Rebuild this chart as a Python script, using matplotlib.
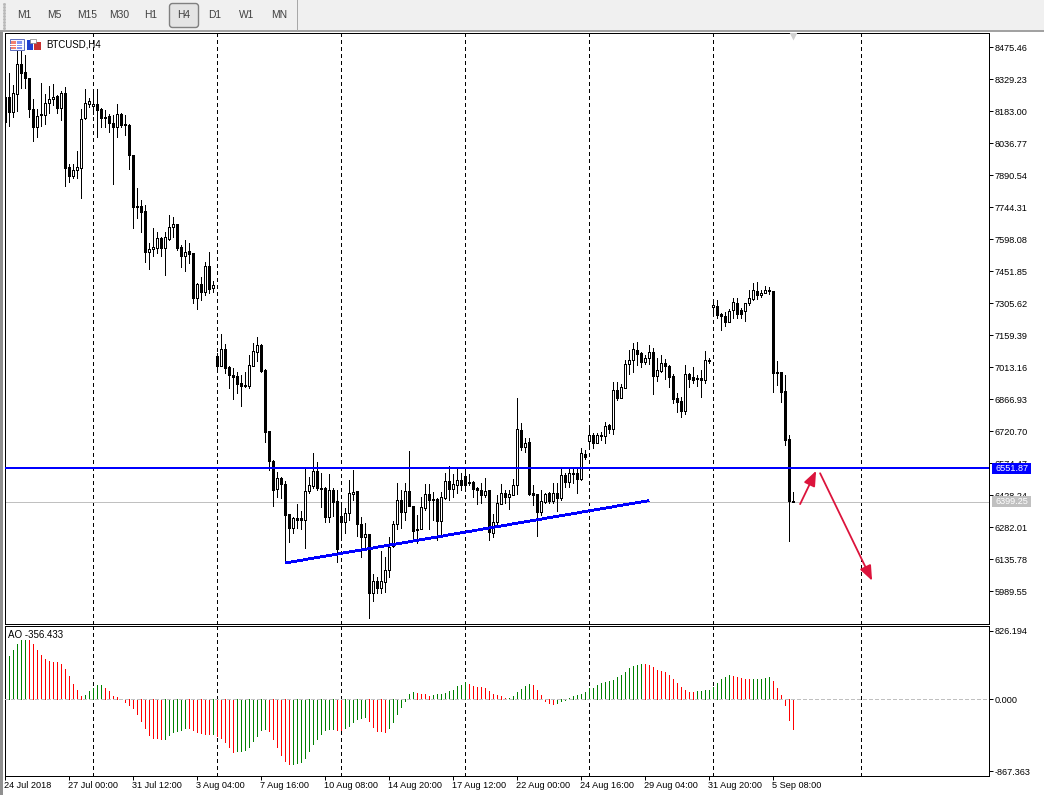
import numpy as np
import matplotlib
matplotlib.use('Agg')
import matplotlib.pyplot as plt
from matplotlib.patches import Rectangle, FancyBboxPatch
from matplotlib.transforms import ScaledTranslation

plt.rcParams['font.family'] = ['Liberation Sans', 'DejaVu Sans']

# BTCUSD H4 candles
opens = [8250, 8247, 8181, 8260, 8398, 8361, 8334, 8192, 8113, 8169,
         8168, 8219, 8238, 8253, 8200, 8265, 7927, 7889, 7913, 7922,
         8154, 8216, 8206, 8216, 8194, 8157, 8163, 8128, 8110, 8169,
         8125, 8119, 7982, 7749, 7750, 7727, 7542, 7552, 7560, 7604,
         7560, 7601, 7653, 7668, 7563, 7523, 7543, 7534, 7328, 7394,
         7359, 7476, 7377,
         7065, 7021, 7095, 7015, 6978, 6975, 6941, 6931, 6929, 7021,
         7085, 7114, 7001, 6720, 6585, 6455, 6506, 6480, 6341, 6279,
         6323, 6323, 6317, 6446, 6472, 6538, 6462, 6462, 6331, 6452,
         6401, 6332, 6308, 6346, 6436, 6446, 6296, 6239, 6250, 5983,
         6035, 6006, 6034, 6085, 6197, 6296, 6405, 6353, 6446, 6379,
         6274, 6276, 6370, 6433, 6410, 6411, 6312, 6416, 6492, 6457,
         6475, 6497, 6516, 6488, 6488, 6462, 6451, 6431, 6451, 6257,
         6305, 6388, 6437, 6422, 6431, 6474, 6725, 6650, 6670, 6437,
         6433, 6354, 6399, 6437, 6402, 6437, 6417, 6519, 6489, 6530,
         6529, 6504, 6617, 6678, 6702, 6666, 6704, 6701, 6748, 6733,
         6908, 6874, 6920, 7027, 7045, 7091, 7077, 7037, 7054, 7083,
         6975, 6996, 7031, 7019, 6975, 6871, 6859, 6815, 6981, 6967,
         6963, 6963, 6957, 7045,
         7287, 7293, 7255, 7248, 7222, 7275, 7305, 7275, 7272, 7305,
         7325, 7360, 7344, 7354, 7366, 7362, 6990, 6990, 6903, 6684,
         6404]
highs = [8250, 8357, 8303, 8463, 8478, 8440, 8334, 8238, 8192, 8311,
         8261, 8299, 8308, 8258, 8277, 8293, 7942, 7942, 8002, 8192,
         8285, 8245, 8285, 8285, 8197, 8189, 8171, 8166, 8216, 8177,
         8166, 8125, 7982, 7831, 7778, 7755, 7583, 7648, 7633, 7607,
         7633, 7709, 7702, 7668, 7572, 7595, 7580, 7534, 7397, 7427,
         7496, 7538, 7409,
         7077, 7165, 7120, 7018, 7008, 6993, 6978, 6993, 7068, 7123,
         7150, 7118, 7004, 6720, 6590, 6533, 6513, 6494, 6341, 6331,
         6387, 6358, 6551, 6513, 6620, 6579, 6529, 6468, 6526, 6460,
         6452, 6399, 6369, 6498, 6544, 6446, 6331, 6300, 6250, 6069,
         6056, 6174, 6148, 6236, 6311, 6483, 6452, 6483, 6631, 6379,
         6338, 6419, 6480, 6480, 6445, 6414, 6445, 6529, 6562, 6526,
         6551, 6529, 6559, 6526, 6494, 6468, 6483, 6506, 6452, 6341,
         6430, 6480, 6452, 6452, 6503, 6871, 6757, 6689, 6689, 6475,
         6433, 6452, 6440, 6445, 6483, 6483, 6559, 6529, 6551, 6548,
         6559, 6643, 6635, 6742, 6711, 6711, 6719, 6763, 6754, 6944,
         6944, 6935, 7046, 7092, 7126, 7127, 7085, 7069, 7115, 7100,
         7054, 7069, 7050, 7024, 6983, 6897, 6879, 7024, 6989, 7013,
         6978, 7001, 7088, 7057,
         7305, 7321, 7260, 7267, 7278, 7328, 7328, 7283, 7308, 7366,
         7397, 7403, 7366, 7385, 7382, 7363, 7042, 6993, 6978, 6704,
         6445]
lows = [8006, 8116, 8158, 8184, 8291, 8291, 8155, 8049, 8067, 8116,
        8123, 8174, 8212, 8177, 8143, 7843, 7861, 7877, 7877, 7788,
        8148, 8204, 8169, 8067, 8113, 8110, 8090, 7852, 8064, 8113,
        8076, 7921, 7650, 7697, 7633, 7496, 7461, 7522, 7534, 7522,
        7435, 7595, 7610, 7549, 7470, 7455, 7488, 7305, 7280, 7321,
        7344, 7351, 7359,
        7001, 7020, 6986, 6920, 6868, 6894, 6838, 6925, 6920, 7020,
        7042, 6993, 6673, 6544, 6381, 6422, 6414, 6122, 6216, 6254,
        6277, 6273, 6189, 6437, 6460, 6452, 6376, 6305, 6308, 6335,
        6125, 6239, 6254, 6315, 6407, 6244, 6148, 6194, 5869, 5947,
        5983, 5983, 5988, 6056, 6190, 6274, 6280, 6315, 6381, 6232,
        6209, 6274, 6361, 6274, 6315, 6224, 6239, 6411, 6407, 6422,
        6437, 6452, 6468, 6475, 6422, 6387, 6391, 6422, 6224, 6239,
        6292, 6388, 6392, 6366, 6430, 6434, 6635, 6628, 6430, 6384,
        6244, 6338, 6392, 6392, 6392, 6358, 6407, 6468, 6468, 6483,
        6440, 6498, 6596, 6658, 6646, 6666, 6681, 6669, 6711, 6707,
        6864, 6871, 6917, 6981, 6993, 7024, 7016, 7028, 7027, 6891,
        6952, 6990, 6958, 6925, 6848, 6810, 6788, 6800, 6925, 6940,
        6929, 6879, 6943, 7034,
        7263, 7237, 7184, 7203, 7219, 7240, 7237, 7237, 7226, 7298,
        7321, 7324, 7333, 7351, 7348, 6900, 6932, 6856, 6658, 6221,
        6399]
closes = [8136, 8181, 8265, 8398, 8360, 8334, 8192, 8113, 8163, 8165,
          8219, 8238, 8250, 8200, 8265, 7925, 7889, 7913, 7927, 8146,
          8219, 8232, 8215, 8190, 8151, 8151, 8128, 8110, 8169, 8120,
          8119, 7982, 7747, 7747, 7724, 7542, 7552, 7561, 7602, 7560,
          7607, 7653, 7666, 7557, 7523, 7539, 7532, 7328, 7394, 7359,
          7476, 7372, 7388,
          7021, 7095, 7012, 6978, 6969, 6937, 6929, 6929, 7022, 7086,
          7114, 6996, 6719, 6586, 6452, 6506, 6481, 6340, 6279, 6323,
          6317, 6317, 6446, 6474, 6538, 6463, 6457, 6331, 6452, 6399,
          6184, 6308, 6347, 6437, 6445, 6296, 6239, 6250, 5983, 6035,
          6006, 6035, 6085, 6194, 6296, 6405, 6353, 6446, 6381, 6267,
          6271, 6373, 6433, 6407, 6408, 6312, 6419, 6492, 6457, 6478,
          6497, 6477, 6475, 6484, 6457, 6452, 6430, 6446, 6262, 6305,
          6391, 6437, 6422, 6433, 6474, 6730, 6650, 6666, 6434, 6431,
          6354, 6401, 6434, 6402, 6437, 6417, 6519, 6489, 6529, 6527,
          6501, 6620, 6605, 6702, 6666, 6702, 6701, 6745, 6733, 6908,
          6871, 6922, 7027, 7046, 7095, 7074, 7039, 7054, 7083, 6975,
          7001, 7031, 7021, 6970, 6868, 6856, 6815, 6981, 6961, 6955,
          6958, 6954, 7045, 7042,
          7296, 7252, 7248, 7222, 7272, 7310, 7257, 7257, 7305, 7330,
          7365, 7344, 7354, 7366, 7363, 6989, 6987, 6902, 6681, 6402,
          6399.25]

# Awesome Oscillator, first bar sits under the second candle
ao_values = [524, 596, 669, 717, 720, 716, 669, 596, 536, 488, 463, 447, 445, 427, 367,
             282, 185, 113, 40, 52, 101, 137, 173, 175, 137, 101, 40, 28, 2, -32, -69,
             -105, -177, -262, -347, -431, -467, -468, -480, -478, -431, -395, -383, -371,
             -347, -348, -371, -395, -407, -419, -420, -418, -443, -467, -516, -576, -637,
             -625, -624, -613, -576, -504, -443, -371, -359, -383, -480, -576, -673, -746,
             -782, -781, -770, -758, -709, -625, -540, -480, -419, -371, -359, -358, -371,
             -372, -347, -322, -274, -238, -226, -214, -262, -335, -383, -384, -395, -347,
             -274, -177, -93, -20, 64, 89, 77, 64, 63, 40, 52, 64, 65, 77, 101, 113, 161,
             173, 210, 185, 161, 149, 148, 137, 101, 64, 52, 40, 16, 17, 40, 89, 125, 161,
             185, 173, 113, 52, -20, -44, -56, -44, -20, -3, 16, 40, 52, 64, 89, 137, 140,
             173, 197, 210, 222, 234, 270, 294, 330, 379, 403, 415, 427, 426, 415, 391, 355,
             343, 330, 294, 246, 197, 149, 113, 89, 88, 101, 102, 113, 114, 149, 197, 246,
             270, 294, 282, 270, 258, 246, 245, 246, 247, 248, 258, 270, 222, 137, 52, -69,
             -250, -356.433]

price_ticks = [8475.46, 8329.23, 8183.00, 8036.77, 7890.54, 7744.31, 7598.08, 7451.85, 7305.62,
               7159.39, 7013.16, 6866.93, 6720.70, 6574.47, 6428.24, 6282.01, 6135.78, 5989.55]
ao_ticks = [826.194, 0.0, -867.363]
time_labels = ['24 Jul 2018', '27 Jul 00:00', '31 Jul 12:00', '3 Aug 04:00', '7 Aug 16:00',
               '10 Aug 08:00', '14 Aug 20:00', '17 Aug 12:00', '22 Aug 00:00', '24 Aug 16:00',
               '29 Aug 04:00', '31 Aug 20:00', '5 Sep 08:00']
grid_bars = [22, 53, 84, 115, 146, 177, 214]
buttons = ['M1', 'M5', 'M15', 'M30', 'H1', 'H4', 'D1', 'W1', 'MN']
button_x = [24, 54, 87, 119, 151, 184, 215, 247, 279]

support = 6551.87
last_price = 6399.25
trend_bars = [70.1, 161]
trend_prices = [6119, 6404]
arrow_up = [(198.8, 6388), (202.8, 6540)]
arrow_down = [(203.8, 6529), (216.8, 6038)]

W, H = 1044, 795
fig = plt.figure(figsize=(W / 100, H / 100), dpi=100, facecolor='white')
px = 0.72  # one pixel in points
tick_font = 6.6

ax = fig.add_axes([4.9 / W, (H - 623.5) / H, 984 / W, 590.5 / H])
ax2 = fig.add_axes([4.9 / W, (H - 776) / H, 984 / W, 150.5 / H])

# vertical dashed grid in both panes
for a in (ax, ax2):
    a.set_xlim(0, 246)
    for g in grid_bars:
        a.axvline(g, color='black', lw=px, ls=(0, (3.5, 3.5)), zorder=1, antialiased=False)
    for s in a.spines.values():
        s.set_linewidth(px)
    a.yaxis.tick_right()

ax.set_ylim(5842.4, 8540.8)
ax.axhline(last_price, color='#c0c0c0', lw=px, zorder=1.5, antialiased=False)

# candles
opens = np.array(opens)
closes = np.array(closes)
idx = np.arange(len(opens))
ax.vlines(idx, lows, highs, color='black', lw=px, zorder=2, antialiased=False)
body_low = np.minimum(opens, closes)
body_h = np.abs(closes - opens)
body_col = ['white' if c > o else 'black' for o, c in zip(opens, closes)]
ax.bar(idx, body_h, bottom=body_low, width=0.5, color=body_col, edgecolor='black',
       linewidth=px, zorder=3, antialiased=False)

ax.axhline(support, color='#0000ff', lw=1.44, zorder=4)
ax.plot(trend_bars, trend_prices, color='#0000ff', lw=1.3, zorder=4, solid_capstyle='butt',
        antialiased=False)

for start, end in (arrow_up, arrow_down):
    ax.annotate('', xy=end, xytext=start, zorder=5,
                arrowprops=dict(arrowstyle='-|>,head_length=9,head_width=3.6', color='#dc143c',
                                lw=1.3, mutation_scale=1, shrinkA=0, shrinkB=0))

ax.set_yticks(price_ticks)
ax.set_yticklabels(['%.2f' % p for p in price_ticks])
ax.set_xticks([])
ax.tick_params(axis='y', length=3, width=px, labelsize=tick_font, pad=1.2, colors='black')

# price tags on the axis, covering the tick labels behind them
for price, col in ((support, '#0000ff'), (last_price, '#c0c0c0')):
    ax.add_patch(Rectangle((1 + 3 / 984, price - 24.2), 39 / 984, 48.4, fc=col, ec='none',
                           transform=ax.get_yaxis_transform(), clip_on=False, zorder=9))
    ax.text(1 + 6.5 / 984, price, '%.2f' % price, transform=ax.get_yaxis_transform(), color='white',
            fontsize=tick_font, va='center', ha='left', clip_on=False, zorder=10)

ax.plot([197], [0.995], marker='v', ms=6, color='#d0d0d0', mec='none',
        transform=ax.get_xaxis_transform(), clip_on=True, zorder=6)

# oscillator pane
ao_x = np.arange(1, len(ao_values) + 1)
ao_cols = ['#008000'] + ['#008000' if b > a else '#ff0000' for a, b in zip(ao_values, ao_values[1:])]
ax2.set_ylim(-927, 892)
ax2.vlines(ao_x, 0, ao_values, colors=ao_cols, lw=px, zorder=2, antialiased=False)
ax2.axhline(0, color='#c0c0c0', lw=px, ls=(0, (4, 2.5)), zorder=3, antialiased=False)
ax2.set_yticks(ao_ticks)
ax2.set_yticklabels(['%.3f' % v for v in ao_ticks])
ax2.tick_params(axis='y', length=3, width=px, labelsize=tick_font, pad=1.2)

ax2.set_xticks(np.arange(len(time_labels)) * 16)
ax2.set_xticklabels(time_labels, ha='left')
ax2.tick_params(axis='x', length=3, width=px, labelsize=tick_font, pad=0.5)
nudge = ScaledTranslation(-0.6 / 100, 0, fig.dpi_scale_trans)
for lab in ax2.get_xticklabels():
    lab.set_transform(lab.get_transform() + nudge)

# window chrome in pixel coordinates
top = fig.add_axes([0, 0, 1, 1], zorder=20)
top.set_xlim(0, W)
top.set_ylim(H, 0)
top.axis('off')
top.patch.set_alpha(0)
top.add_patch(Rectangle((0, 0), W, 30.5, fc='#f0f0f0', ec='none'))
top.plot([0, W], [31, 31], color='#a0a0a0', lw=1.4)
top.plot([296.5, 296.5], [0, 30], color='#a8a8a8', lw=px)
top.add_patch(Rectangle((0, 31), 3, H - 31, fc='#909090', ec='none'))
top.plot([3.5] * 9, np.arange(4, 31, 3), ls='none', marker='s', ms=1, color='#b8b8b8')
top.add_patch(FancyBboxPatch((171, 5), 26, 21, boxstyle='round,pad=1.5,rounding_size=3',
                             fc='#e4e4e4', ec='#808080', lw=1))
for name, xp in zip(buttons, button_x):
    top.text(xp, 15.5, name, ha='center', va='center', fontsize=7.4, color='#404040')

# little chart window icons
top.add_patch(Rectangle((9.5, 38.5), 14, 11.5, fc='#f4f4ff', ec='#6070c0', lw=px))
top.add_patch(Rectangle((11, 41), 5, 7.5, fc='#f08070', ec='none'))
top.add_patch(Rectangle((17, 41), 5, 7.5, fc='#8090f0', ec='none'))
for yp in (43.5, 46):
    top.plot([10, 23], [yp, yp], color='white', lw=px)
top.add_patch(Rectangle((26.5, 39.5), 6.5, 10, fc='#2040d0', ec='none'))
top.add_patch(Rectangle((33.5, 41.5), 7, 8, fc='#c83030', ec='none'))
top.add_patch(Rectangle((30, 39), 6, 4, fc='white', ec='#808080', lw=0.5))
top.text(46.5, 44.5, 'BTCUSD,H4', ha='left', va='center', fontsize=7, color='black')
top.text(8.5, 634.5, 'AO -356.433', ha='left', va='center', fontsize=7, color='black')

fig.savefig('out.png', dpi=100)
